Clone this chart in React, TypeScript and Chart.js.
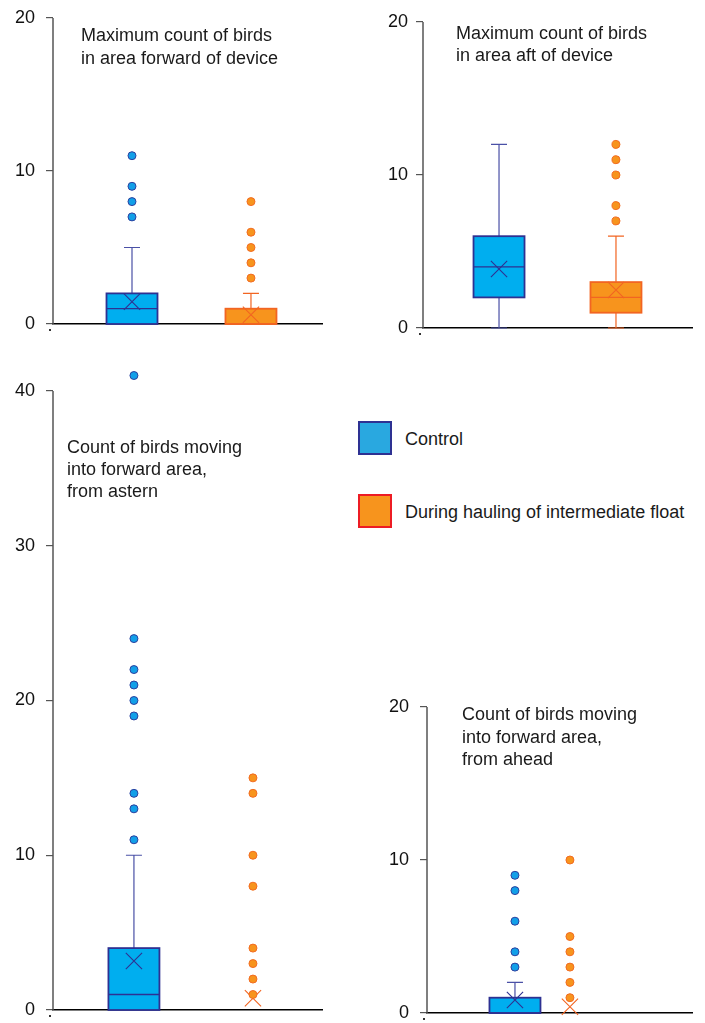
import React, { useEffect, useRef } from 'react';
import { Chart, registerables } from 'chart.js';

Chart.register(...registerables);

// Groups
const GROUPS = ['Control', 'During hauling of intermediate float'];

// Box summaries: [whisker low, Q1, median, Q3, whisker high]
// Panel A: Maximum count of birds in area forward of device
const fwdControlBox = [0, 0, 1, 2, 5];
const fwdControlMean = [1.46];
const fwdControlOutliers = [7, 8, 9, 11];
const fwdHaulBox = [0, 0, 0, 1, 2];
const fwdHaulMean = [0.6];
const fwdHaulOutliers = [3, 4, 5, 6, 8];

// Panel B: Maximum count of birds in area aft of device
const aftControlBox = [0, 2, 4, 6, 12];
const aftControlMean = [3.85];
const aftControlOutliers: number[] = [];
const aftHaulBox = [0, 1, 2, 3, 6];
const aftHaulMean = [2.48];
const aftHaulOutliers = [7, 8, 10, 11, 12];

// Panel C: Count of birds moving into forward area, from astern
const asternControlBox = [0, 0, 1, 4, 10];
const asternControlMean = [3.17];
const asternControlOutliers = [11, 13, 14, 19, 20, 21, 22, 24, 41];
const asternHaulBox = [0, 0, 0, 0, 0];
const asternHaulMean = [0.76];
const asternHaulOutliers = [1, 2, 3, 4, 8, 10, 14, 15];

// Panel D: Count of birds moving into forward area, from ahead
const aheadControlBox = [0, 0, 0, 1, 2];
const aheadControlMean = [0.85];
const aheadControlOutliers = [3, 4, 6, 8, 9];
const aheadHaulBox = [0, 0, 0, 0, 0];
const aheadHaulMean = [0.41];
const aheadHaulOutliers = [1, 2, 3, 4, 5, 10];

// Titles
const fwdTitle = ['Maximum count of birds', 'in area forward of device'];
const aftTitle = ['Maximum count of birds', 'in area aft of device'];
const asternTitle = ['Count of birds moving', 'into forward area,', 'from astern'];
const aheadTitle = ['Count of birds moving', 'into forward area,', 'from ahead'];

const FONT = "'Liberation Sans', Arial, Helvetica, sans-serif";

const STYLE = [
  {
    fill: '#00AEEF',
    stroke: '#2E3192',
    whisker: '#4A50A6',
    dotFill: '#129FE8',
    dotStroke: '#2B3F9E',
  },
  {
    fill: '#F7941D',
    stroke: '#F26522',
    whisker: '#F26522',
    dotFill: '#F7941D',
    dotStroke: '#F26B21',
  },
];

const boxPlugin = {
  id: 'boxplot',
  beforeDatasetsDraw(chart: any, _args: any, opts: any) {
    const { ctx } = chart;
    const xs = chart.scales.x;
    const ys = chart.scales.y;
    const boxes: number[][] = opts.boxes || [];
    const half = 25.5;
    const cap = 8;
    ctx.save();
    // y axis line from 0 to top tick
    const top = ys.getPixelForValue(opts.axisTop);
    const bottom = ys.getPixelForValue(0);
    const ax = chart.chartArea.left;
    ctx.strokeStyle = '#555';
    ctx.lineWidth = 1.5;
    ctx.beginPath();
    ctx.moveTo(ax, top);
    ctx.lineTo(ax, bottom);
    ctx.stroke();
    boxes.forEach((b, i) => {
      const st = STYLE[i];
      const cx = xs.getPixelForValue(i + 1);
      const [lo, q1, med, q3, hi] = b.map((v) => ys.getPixelForValue(v));
      ctx.strokeStyle = st.whisker;
      ctx.lineWidth = 1.2;
      if (b[4] > b[3]) {
        ctx.beginPath();
        ctx.moveTo(cx, q3);
        ctx.lineTo(cx, hi);
        ctx.moveTo(cx - cap, hi);
        ctx.lineTo(cx + cap, hi);
        ctx.stroke();
      }
      if (b[0] < b[1]) {
        ctx.beginPath();
        ctx.moveTo(cx, q1);
        ctx.lineTo(cx, lo);
        ctx.moveTo(cx - cap, lo);
        ctx.lineTo(cx + cap, lo);
        ctx.stroke();
      }
      if (b[3] > b[1]) {
        ctx.fillStyle = st.fill;
        ctx.fillRect(cx - half, q3, half * 2, q1 - q3);
        ctx.strokeStyle = st.stroke;
        ctx.lineWidth = 1.8;
        ctx.strokeRect(cx - half, q3, half * 2, q1 - q3);
        ctx.lineWidth = 1.3;
        ctx.beginPath();
        ctx.moveTo(cx - half, med);
        ctx.lineTo(cx + half, med);
        ctx.stroke();
      }
    });
    // small mark under the zero tick
    ctx.fillStyle = '#333';
    ctx.fillRect(ax - 4, bottom + 5, 2, 2);
    ctx.restore();
  },
};

type Panel = {
  left: number;
  top: number;
  width: number;
  height: number;
  axisLeft: number;
  padTop: number;
  xAxisH: number;
  padRight: number;
  yMax: number;
  axisTop: number;
  xMin: number;
  xMax: number;
  tickPad: number;
  boxes: number[][];
  means: number[][];
  outliers: number[][];
};

const panels: Panel[] = [
  {
    left: 0, top: -10, width: 340, height: 355,
    axisLeft: 53, padTop: 28, xAxisH: 21, padRight: 18,
    yMax: 20, axisTop: 20, xMin: 0.336, xMax: 2.597, tickPad: 11,
    boxes: [fwdControlBox, fwdHaulBox],
    means: [fwdControlMean, fwdHaulMean],
    outliers: [fwdControlOutliers, fwdHaulOutliers],
  },
  {
    left: 360, top: 0, width: 345, height: 345,
    axisLeft: 63, padTop: 22, xAxisH: 17, padRight: 13,
    yMax: 20, axisTop: 20, xMin: 0.35, xMax: 2.65, tickPad: 8,
    boxes: [aftControlBox, aftHaulBox],
    means: [aftControlMean, aftHaulMean],
    outliers: [aftControlOutliers, aftHaulOutliers],
  },
  {
    left: 0, top: 290, width: 340, height: 750,
    axisLeft: 53, padTop: 23.6, xAxisH: 30, padRight: 18,
    yMax: 45, axisTop: 40, xMin: 0.32, xMax: 2.58, tickPad: 11,
    boxes: [asternControlBox, asternHaulBox],
    means: [asternControlMean, asternHaulMean],
    outliers: [asternControlOutliers, asternHaulOutliers],
  },
  {
    left: 360, top: 680, width: 345, height: 363,
    axisLeft: 67, padTop: 27, xAxisH: 30, padRight: 13,
    yMax: 20, axisTop: 20, xMin: -0.6, xMax: 4.22, tickPad: 11,
    boxes: [aheadControlBox, aheadHaulBox],
    means: [aheadControlMean, aheadHaulMean],
    outliers: [aheadControlOutliers, aheadHaulOutliers],
  },
];

function BoxPanel({ p }: { p: Panel }) {
  const ref = useRef<HTMLCanvasElement>(null);
  useEffect(() => {
    if (!ref.current) return;
    const datasets: any[] = [];
    p.outliers.forEach((arr, i) => {
      datasets.push({
        label: GROUPS[i] + ' outliers',
        data: arr.map((v) => ({ x: i + 1, y: v })),
        pointRadius: 4,
        pointBackgroundColor: STYLE[i].dotFill,
        pointBorderColor: STYLE[i].dotStroke,
        pointBorderWidth: 1,
        showLine: false,
        clip: false,
      });
    });
    p.means.forEach((arr, i) => {
      datasets.push({
        label: GROUPS[i] + ' mean',
        data: arr.map((v) => ({ x: i + 1, y: v })),
        pointStyle: 'crossRot',
        pointRadius: 11.5,
        pointBorderColor: STYLE[i].stroke,
        pointBackgroundColor: 'transparent',
        pointBorderWidth: 1.1,
        showLine: false,
        clip: false,
      });
    });
    const chart = new Chart(ref.current, {
      type: 'scatter',
      data: { datasets },
      plugins: [boxPlugin as any],
      options: {
        animation: false,
        responsive: false,
        events: [],
        layout: { padding: { top: p.padTop, right: p.padRight, left: 0, bottom: 0 } },
        plugins: {
          legend: { display: false },
          tooltip: { enabled: false },
          boxplot: { boxes: p.boxes, axisTop: p.axisTop },
        } as any,
        scales: {
          x: {
            type: 'linear',
            min: p.xMin,
            max: p.xMax,
            ticks: { display: false },
            grid: { display: false },
            border: { display: true, color: '#000', width: 1.5 },
            afterFit: (s: any) => {
              s.height = p.xAxisH;
            },
          },
          y: {
            type: 'linear',
            min: 0,
            max: p.yMax,
            afterBuildTicks: (s: any) => {
              s.ticks = s.ticks.filter((t: any) => t.value <= p.axisTop && t.value % 10 === 0);
            },
            ticks: {
              stepSize: 10,
              padding: p.tickPad,
              color: '#111',
              font: { family: FONT, size: 18, lineHeight: 1 },
            },
            grid: {
              display: true,
              drawOnChartArea: false,
              drawTicks: true,
              tickLength: 7,
              color: '#555',
              lineWidth: 1.2,
            },
            border: { display: false },
            afterFit: (s: any) => {
              s.width = p.axisLeft;
            },
          },
        },
      },
    });
    return () => chart.destroy();
  }, [p]);
  return (
    <canvas
      ref={ref}
      width={p.width}
      height={p.height}
      style={{ position: 'absolute', left: p.left, top: p.top, width: p.width, height: p.height }}
    />
  );
}

function Title({ lines, left, top, lh }: { lines: string[]; left: number; top: number; lh: number }) {
  return (
    <div
      style={{
        position: 'absolute',
        left,
        top,
        fontFamily: FONT,
        fontSize: 18,
        lineHeight: lh + 'px',
        color: '#1a1a1a',
        whiteSpace: 'nowrap',
      }}
    >
      {lines.map((l, i) => (
        <div key={i}>{l}</div>
      ))}
    </div>
  );
}

function LegendItem({ top, fill, border, label }: { top: number; fill: string; border: string; label: string }) {
  return (
    <>
      <div
        style={{
          position: 'absolute',
          left: 358,
          top,
          width: 30,
          height: 30,
          background: fill,
          border: `2px solid ${border}`,
        }}
      />
      <div
        style={{
          position: 'absolute',
          left: 405,
          top: top + 7,
          fontFamily: FONT,
          fontSize: 18,
          lineHeight: '22px',
          color: '#1a1a1a',
          whiteSpace: 'nowrap',
        }}
      >
        {label}
      </div>
    </>
  );
}

export default function App() {
  return (
    <div style={{ position: 'absolute', left: 0, top: 0, width: 705, height: 1023, background: '#fff', overflow: 'hidden' }}>
      {panels.map((p, i) => (
        <BoxPanel key={i} p={p} />
      ))}
      <Title lines={fwdTitle} left={81} top={24} lh={23} />
      <Title lines={aftTitle} left={456} top={22} lh={22} />
      <Title lines={asternTitle} left={67} top={436} lh={22} />
      <Title lines={aheadTitle} left={462} top={703} lh={22.5} />
      <LegendItem top={421} fill="#29A8E0" border="#2E3192" label={GROUPS[0]} />
      <LegendItem top={494} fill="#F7941D" border="#ED1C24" label={GROUPS[1]} />
    </div>
  );
}
